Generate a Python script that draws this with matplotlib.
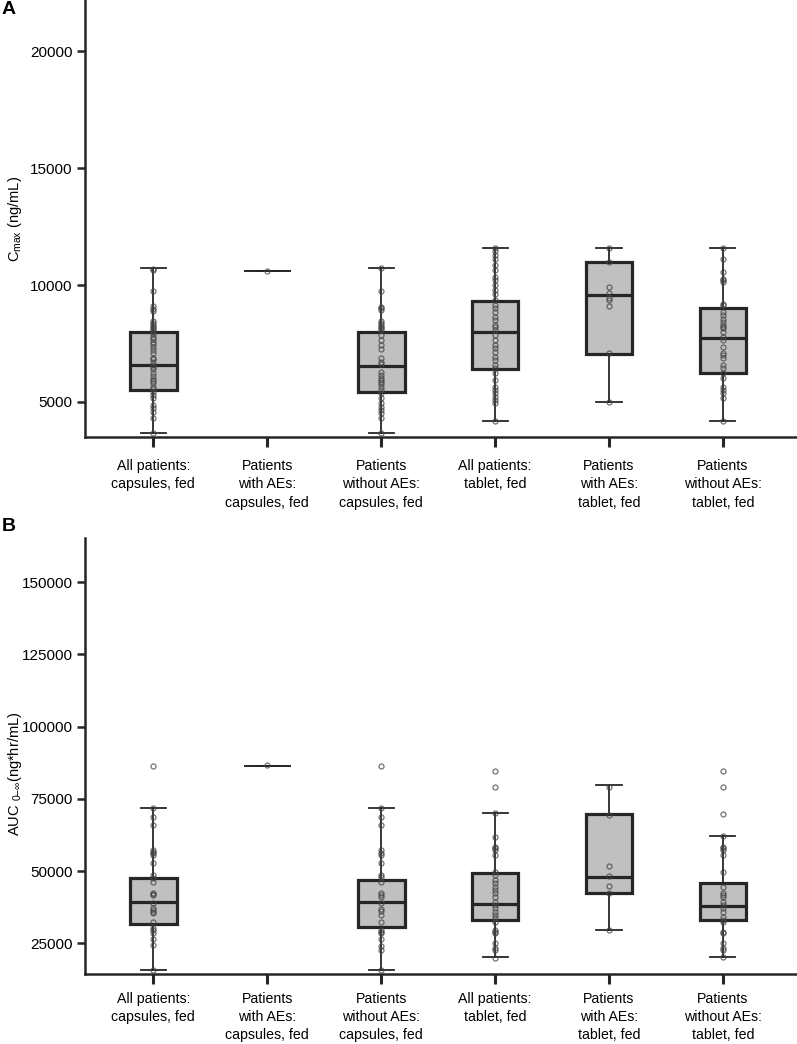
import matplotlib
matplotlib.use("Agg")
import matplotlib.pyplot as plt

plt.rcParams['font.family'] = ['Liberation Sans', 'DejaVu Sans']
plt.rcParams['mathtext.fontset'] = 'custom'
plt.rcParams['mathtext.rm'] = 'Liberation Sans'
plt.rcParams['mathtext.it'] = 'Liberation Sans'

categories = ["All patients:\ncapsules, fed",
              "Patients\nwith AEs:\ncapsules, fed",
              "Patients\nwithout AEs:\ncapsules, fed",
              "All patients:\ntablet, fed",
              "Patients\nwith AEs:\ntablet, fed",
              "Patients\nwithout AEs:\ntablet, fed"]

# ---- Panel A: Cmax (ng/mL) ----
cmax_whislo = [3660, 10600, 3690, 4205, 5000, 4180]
cmax_q1     = [5530, 10600, 5430, 6395, 7065, 6240]
cmax_med    = [6580, 10600, 6520, 8000, 9570, 7720]
cmax_q3     = [8010, 10600, 7990, 9340, 10970, 9010]
cmax_whishi = [10730, 10600, 10750, 11600, 11600, 11600]

cmax_pts_1 = [10700, 10650, 9750, 9100, 8970, 8900, 8460, 8360, 8300, 8220, 8150, 8070,
              7990, 7890, 7780, 7690, 7580, 7460, 7350, 7220, 7100, 6890, 6820, 6700,
              6580, 6500, 6420, 6220, 6100, 5980, 5900, 5800, 5660, 5550, 5440, 5300,
              5160, 4870, 4750, 4590, 4300, 3660]
cmax_pts_2 = [10600]
cmax_pts_3 = [10750, 9750, 9070, 9000, 8925, 8455, 8360, 8285, 8215, 8145, 8070, 7860,
              7645, 7430, 7260, 6865, 6720, 6610, 6300, 6150, 6010, 5940, 5870, 5755,
              5655, 5510, 5370, 5160, 4945, 4800, 4660, 4520, 4300, 3665]
cmax_pts_4 = [11600, 11450, 11300, 11130, 10845, 10630, 10350, 10205, 9990, 9780, 9635,
              9350, 9140, 9000, 8855, 8640, 8500, 8285, 8215, 8070, 7860, 7645, 7430,
              7290, 7150, 6935, 6790, 6580, 6435, 6225, 5940, 5655, 5510, 5370, 5230,
              5085, 4945, 4205]
cmax_pts_5 = [11600, 10970, 9920, 9670, 9450, 9350, 9100, 7080, 5000]
cmax_pts_6 = [11600, 11100, 10560, 10280, 10205, 10135, 9210, 9140, 8855, 8710, 8570,
              8430, 8285, 8215, 8145, 8000, 7790, 7645, 7360, 7080, 7005, 6865, 6580,
              6435, 6225, 6010, 5655, 5510, 5370, 5160, 4205]

# ---- Panel B: AUC 0-inf (ng*hr/mL) ----
auc_whislo = [15800, 86500, 15800, 20260, 29700, 20300]
auc_q1     = [31700, 86500, 30750, 33000, 42500, 33000]
auc_med    = [39200, 86500, 39300, 38500, 48100, 38000]
auc_q3     = [47700, 86500, 47000, 49200, 69800, 46000]
auc_whishi = [71850, 86500, 71850, 70200, 79800, 62200]

auc_pts_1 = [86400, 71750, 68850, 65970, 57300, 56720, 56170, 55580, 52910, 48650, 47500,
             46330, 42520, 42070, 41730, 38850, 37120, 36530, 35940, 35390, 32480, 30190,
             29610, 28680, 26390, 24410, 15750]
auc_pts_2 = [86600]
auc_pts_3 = [86500, 71750, 68850, 65970, 57300, 56380, 55580, 52910, 48650, 48070, 46330,
             42310, 41730, 40930, 38850, 36770, 36300, 34800, 32480, 29610, 29020, 28460,
             26490, 24170, 22680, 15750]
auc_pts_4 = [84560, 79130, 70120, 61810, 58460, 57900, 57300, 55580, 49800, 48650, 46920,
             45770, 44600, 43460, 42310, 41140, 39410, 38260, 37120, 35940, 34800, 33660,
             32480, 29610, 29020, 28460, 25210, 23270, 22680, 20010]
auc_pts_5 = [79230, 69430, 51770, 48420, 44850, 42310, 29610]
auc_pts_6 = [84560, 79130, 69880, 62040, 58460, 57900, 57300, 55580, 49800, 44600, 42310,
             41730, 41140, 39410, 38260, 37120, 35940, 34210, 33070, 32480, 29020, 28460,
             25000, 23270, 22680, 20360]

cmax_pts = [cmax_pts_1, cmax_pts_2, cmax_pts_3, cmax_pts_4, cmax_pts_5, cmax_pts_6]
auc_pts = [auc_pts_1, auc_pts_2, auc_pts_3, auc_pts_4, auc_pts_5, auc_pts_6]

DARK = '#262626'
FACE = '#c0c0c0'


def draw_panel(ax, lo, q1, med, q3, hi, pts, ylim, yticks, ylabel, ylab_y, xpad):
    stats = []
    for i in range(len(categories)):
        stats.append(dict(whislo=lo[i], q1=q1[i], med=med[i], q3=q3[i],
                          whishi=hi[i], fliers=[]))
    pos = list(range(len(categories)))
    art = ax.bxp(stats, positions=pos, widths=0.41, capwidths=0.22,
                 patch_artist=True, showfliers=False,
                 boxprops=dict(facecolor=FACE, edgecolor=DARK, linewidth=2.3),
                 medianprops=dict(color=DARK, linewidth=2.3),
                 whiskerprops=dict(color=DARK, linewidth=1.3),
                 capprops=dict(color=DARK, linewidth=1.3))
    for i in range(len(categories)):
        if lo[i] == hi[i]:
            art['boxes'][i].set_linewidth(1.2)
            art['medians'][i].set_linewidth(1.2)
    for i, p in enumerate(pts):
        ax.plot([pos[i]] * len(p), p, linestyle='none', marker='o', ms=3.6,
                mfc='none', mec='#444444', mew=0.9, alpha=0.75, zorder=5)
    ax.set_xlim(-0.6, 5.65)
    ax.set_ylim(*ylim)
    ax.set_yticks(yticks)
    ax.set_xticks(pos)
    ax.set_xticklabels(categories, fontsize=10.2, linespacing=1.38)
    ax.set_ylabel(ylabel, fontsize=10.5)
    ax.yaxis.set_label_coords(-0.085, ylab_y)
    for s in ['top', 'right']:
        ax.spines[s].set_visible(False)
    for s in ['left', 'bottom']:
        ax.spines[s].set_linewidth(1.8)
        ax.spines[s].set_color(DARK)
    ax.tick_params(axis='y', length=6, width=1.8, color=DARK, labelsize=11, pad=3)
    ax.tick_params(axis='x', length=7, width=2.2, color=DARK, pad=xpad)


fig = plt.figure(figsize=(7.97, 10.44), dpi=100)
axA = fig.add_axes([0.1066, 0.5814, 0.8934, 0.4186])
axB = fig.add_axes([0.1066, 0.0670, 0.8934, 0.4177])

draw_panel(axA, cmax_whislo, cmax_q1, cmax_med, cmax_q3, cmax_whishi, cmax_pts,
           (3500, 22200), [5000, 10000, 15000, 20000], r'C$_{\mathregular{max}}$ (ng/mL)',
           0.5, 9)
draw_panel(axB, auc_whislo, auc_q1, auc_med, auc_q3, auc_whishi, auc_pts,
           (14400, 165300), [25000, 50000, 75000, 100000, 125000, 150000],
           r'AUC $_{\mathregular{0–\infty}}$(ng*hr/mL)', 0.46, 6)

fig.text(0.002, 0.9905, 'A', fontsize=14, fontweight='bold', va='center', ha='left')
fig.text(0.002, 0.4955, 'B', fontsize=14, fontweight='bold', va='center', ha='left')

fig.savefig('out.png', dpi=100)
